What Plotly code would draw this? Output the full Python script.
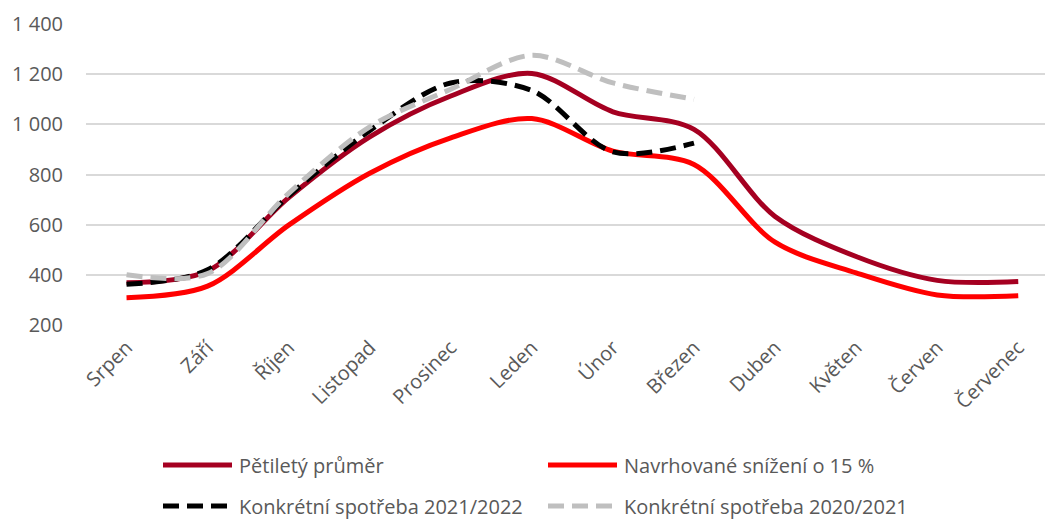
import plotly.graph_objects as go

months = ["Srpen", "Září", "Říjen", "Listopad", "Prosinec", "Leden", "Únor",
          "Březen", "Duben", "Květen", "Červen", "Červenec"]
avg_5y = [368, 415, 708, 950, 1113, 1203, 1050, 980, 633, 473, 378, 373]
reduced_15 = [309, 355, 598, 805, 946, 1023, 893, 840, 530, 408, 320, 317]
actual_2122 = [362, 420, 715, 975, 1165, 1135, 890, 925]
actual_2021 = [400, 405, 725, 990, 1140, 1275, 1165, 1100]
names = ["Pětiletý průměr", "Navrhované snížení o 15 %",
         "Konkrétní spotřeba 2021/2022", "Konkrétní spotřeba 2020/2021"]
y_ticks = [200, 400, 600, 800, 1000, 1200, 1400]
y_tick_labels = ["200", "400", "600", "800", "1 000", "1 200", "1 400"]

W, H = 1045, 519
L, T, B = 86, 24, 325
FONT = "Open Sans, Roboto, sans-serif"
TXT = "#595959"

styles = [
    dict(color="#A50021", width=5, dash="solid"),
    dict(color="#FF0000", width=5, dash="solid"),
    dict(color="#000000", width=5, dash="16px,8px"),
    dict(color="#BFBFBF", width=5, dash="16px,8px"),
]
series = [avg_5y, reduced_15, actual_2122, actual_2021]

fig = go.Figure()
for s, nm, st in zip(series, names, styles):
    fig.add_trace(go.Scatter(
        x=months[:len(s)], y=s, name=nm, mode="lines",
        line=dict(color=st["color"], width=st["width"], dash=st["dash"],
                  shape="spline", smoothing=0.9),
        showlegend=False, hoverinfo="skip"))

# manual legend (positions in page pixels converted to paper coordinates)
def py(p):
    return (B - p) / (B - T)
def px(p):
    return (p - L) / (W - L)

legend_pos = [(163, 465), (548, 465), (163, 506), (548, 506)]
for (x0, y0), nm, st in zip(legend_pos, names, styles):
    fig.add_shape(type="line", xref="paper", yref="paper",
                  x0=px(x0), x1=px(x0 + 69), y0=py(y0), y1=py(y0),
                  line=dict(color=st["color"], width=st["width"],
                            dash="solid" if st["dash"] == "solid" else "16px,8px"))
    fig.add_annotation(xref="paper", yref="paper", x=px(x0 + 74), y=py(y0),
                       text=nm, showarrow=False, xanchor="left", yanchor="middle",
                       font=dict(family=FONT, size=20, color=TXT))

fig.update_layout(
    width=W, height=H,
    margin=dict(l=L, r=0, t=T, b=H - B),
    paper_bgcolor="white", plot_bgcolor="white",
    font=dict(family=FONT, size=20, color=TXT),
    showlegend=False,
)
fig.update_xaxes(range=[-0.5, 11.33], showgrid=False, zeroline=False,
                 showline=False, ticks="", tickangle=-45,
                 tickfont=dict(family=FONT, size=20, color=TXT),
                 ticklabelstandoff=6)
fig.update_yaxes(range=[200, 1400], tickvals=y_ticks, ticktext=y_tick_labels,
                 showgrid=True, gridcolor="#D9D9D9", gridwidth=1.5,
                 zeroline=False, showline=False, ticks="",
                 tickfont=dict(family=FONT, size=20, color=TXT),
                 ticklabelstandoff=22)

fig.write_html("out.html", config={"displayModeBar": False},
               post_script="document.body.style.margin='0';")
